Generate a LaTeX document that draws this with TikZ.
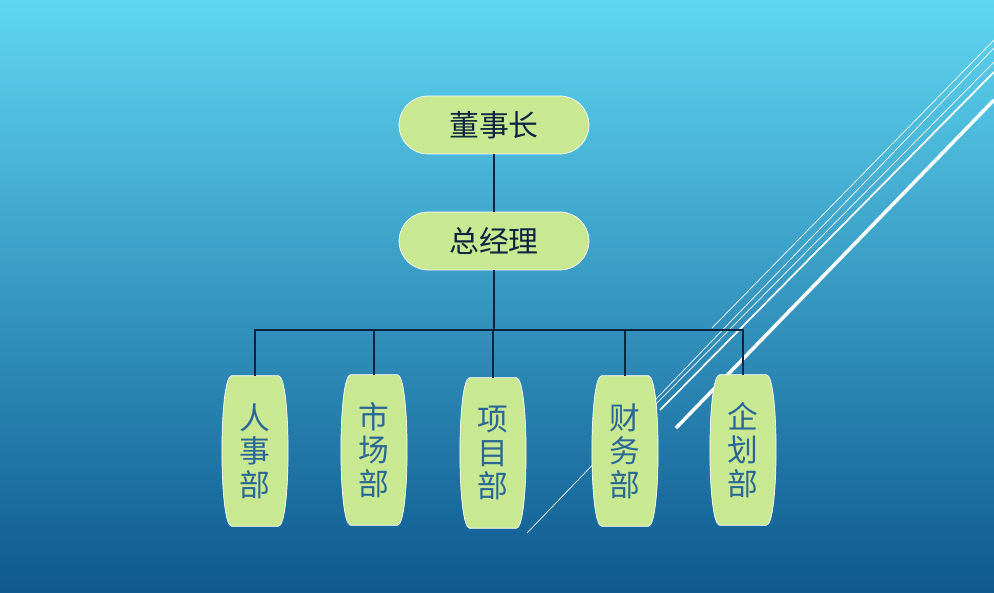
\documentclass[tikz,border=0pt]{standalone}
\usepackage{fontspec}
\newfontfamily\cjk{Noto Sans CJK SC}
\newfontfamily\cjklight{Noto Sans CJK SC Light}
\usetikzlibrary{calc}

\definecolor{skytop}{HTML}{5FD6F1}
\definecolor{seabottom}{HTML}{0E5990}
\definecolor{boxfill}{HTML}{C8E991}
\definecolor{depttext}{HTML}{2A6796}
\definecolor{linkline}{HTML}{0B2440}

\begin{document}
\begin{tikzpicture}[
        x=0.02cm, y=-0.02cm,
        lead/.style={rounded corners=0.58cm, fill=boxfill, draw=white, thin,
                     minimum width=3.8cm, minimum height=1.16cm,
                     font=\cjk\fontsize{17}{20}\selectfont, text=linkline},
        dept/.style={minimum width=1.2cm, minimum height=3cm, inner sep=0pt,
                     align=center, text=depttext,
                     font=\cjk\fontsize{17.5}{19}\selectfont},
        link/.style={draw=linkline, line width=1.2pt},
    ]
    % background
    \shade[top color=skytop, bottom color=seabottom] (0,0) rectangle (994,592);
    \useasboundingbox (0,0) rectangle (994,592);

    % decorative strokes
    \draw[white, thin] (994,48) -- (527,533);
    \draw[white, thin] (994,40) -- (712,328);
    \draw[white, thin] (994,62) -- (655,405);
    \draw[white, line width=1pt] (994,72) -- (660,410);
    \draw[white, line width=2pt] (994,100) -- (676,428);

    \node[lead] (chair) at (494,125) {董事长};
    \node[lead] (ceo) at (494,241) {总经理};

    % barrel-shaped departments
    \foreach \n/\x/\y/\t in {hr/255/451/人\\事\\部, mkt/374/450/市\\场\\部,
                             proj/493/453/项\\目\\部, fin/625/451/财\\务\\部,
                             plan/743/450/企\\划\\部}
    {
        \node[dept] (\n) at (\x,\y) {};
        \filldraw[fill=boxfill, draw=white, thin]
            ([xshift=0.14cm]\n.north west) -- ([xshift=-0.14cm]\n.north east)
            .. controls ([xshift=0.12cm]\n.north east) and ([xshift=0.12cm]\n.south east) ..
            ([xshift=-0.14cm]\n.south east) -- ([xshift=0.14cm]\n.south west)
            .. controls ([xshift=-0.12cm]\n.south west) and ([xshift=-0.12cm]\n.north west) ..
            cycle;
        \node[dept] at (\n) {\t};
    }

    % connectors
    \coordinate (bus) at (494,330);
    \draw[link] (chair) -- (ceo);
    \draw[link] (ceo) -- (bus);
    \draw[link] (hr.north) |- (bus) -| (plan.north);
    \foreach \n in {mkt, proj, fin}
        \draw[link] (\n.north) -- (\n.north |- bus);
\end{tikzpicture}
\end{document}
